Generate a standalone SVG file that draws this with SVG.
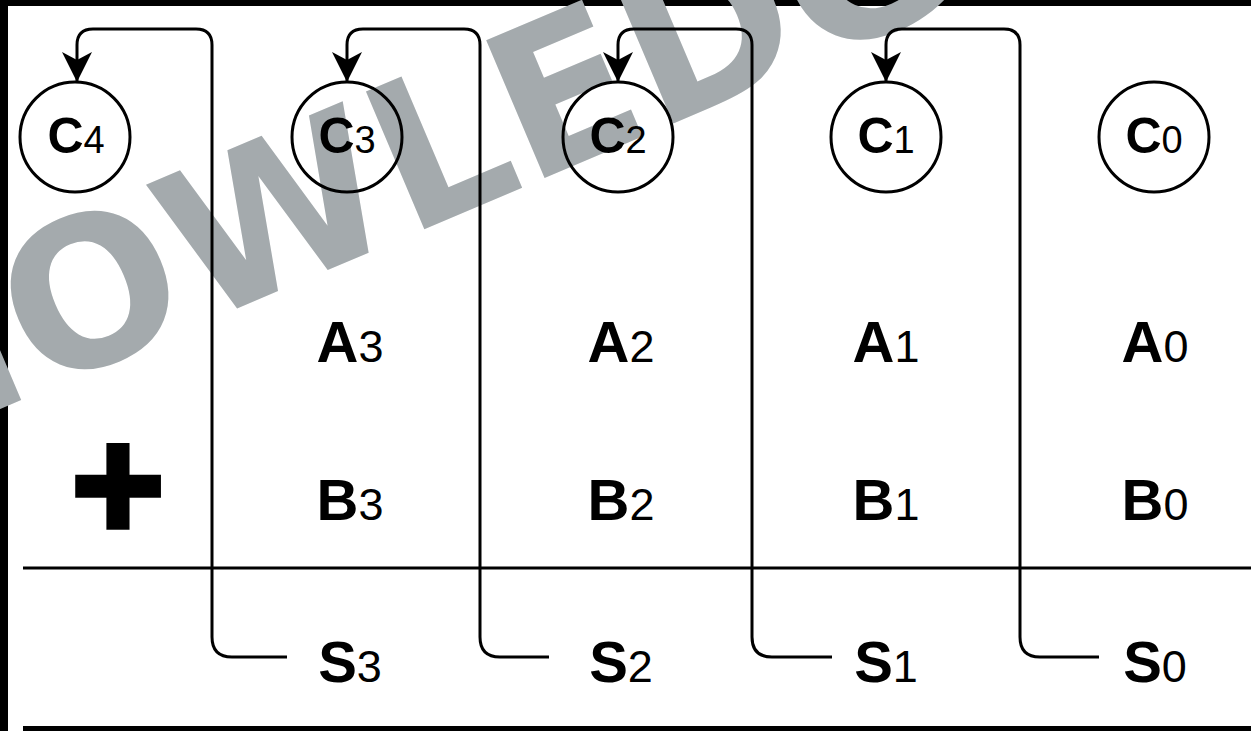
<svg xmlns="http://www.w3.org/2000/svg" width="1251" height="731" viewBox="0 0 1251 731">
<style>
.wm{font-family:"DejaVu Sans",Verdana,sans-serif;font-weight:bold;font-size:205px;fill:#a4aaad}
.node circle{fill:none;stroke:#000;stroke-width:3}
.lbl{font-family:"Liberation Sans",Arial,sans-serif;fill:#000;text-anchor:middle}
.big{font-weight:bold;font-size:58px}
.sub{font-weight:normal;font-size:45px}
.cbig{font-weight:bold;font-size:50px}
.csub{font-weight:normal;font-size:38px}
.conn{fill:none;stroke:#000;stroke-width:3}
.rule{stroke:#000;stroke-width:3}
</style>
<defs>
<marker id="arr" markerUnits="userSpaceOnUse" markerWidth="32" markerHeight="32" refX="30" refY="16" orient="auto" viewBox="0 0 32 32">
<path d="M30,16 L0,1 L8,16 L0,31 Z" fill="#000"/>
</marker>
</defs>
<rect x="0" y="0" width="1251" height="731" fill="#fff"/>
<rect x="0" y="0" width="8" height="731" fill="#000"/>
<rect x="0" y="0" width="1251" height="6" fill="#000"/>
<text class="wm" transform="translate(38,393) rotate(-23)" x="-330" y="0">KNOWLEDGE</text>

<g id="rules">
<line class="rule" x1="23" y1="568" x2="1251" y2="568"/>
<line x1="23" y1="728.5" x2="1251" y2="728.5" stroke="#000" stroke-width="5"/>
</g>

<g id="connectors">
<path class="conn" marker-end="url(#arr)" d="M287,657 L232,657 Q212,657 212,637 L212,45 Q212,29 196,29 L93,29 Q77,29 77,45 L77,82"/>
<path class="conn" marker-end="url(#arr)" d="M549,657 L500,657 Q480,657 480,637 L480,45 Q480,29 464,29 L363,29 Q347,29 347,45 L347,82"/>
<path class="conn" marker-end="url(#arr)" d="M832,657 L772,657 Q752,657 752,637 L752,45 Q752,29 736,29 L634,29 Q618,29 618,45 L618,82"/>
<path class="conn" marker-end="url(#arr)" d="M1099,657 L1040,657 Q1020,657 1020,637 L1020,45 Q1020,29 1004,29 L902,29 Q886,29 886,45 L886,82"/>
</g>

<g id="c4" class="node"><circle cx="75" cy="137" r="55"/><text class="lbl" x="76" y="153"><tspan class="cbig">C</tspan><tspan class="csub">4</tspan></text></g>
<g id="c3" class="node"><circle cx="347" cy="137" r="55"/><text class="lbl" x="347" y="153"><tspan class="cbig">C</tspan><tspan class="csub">3</tspan></text></g>
<g id="c2" class="node"><circle cx="618" cy="137" r="55"/><text class="lbl" x="618" y="153"><tspan class="cbig">C</tspan><tspan class="csub">2</tspan></text></g>
<g id="c1" class="node"><circle cx="886" cy="137" r="55"/><text class="lbl" x="886" y="153"><tspan class="cbig">C</tspan><tspan class="csub">1</tspan></text></g>
<g id="c0" class="node"><circle cx="1154" cy="137" r="55"/><text class="lbl" x="1154" y="153"><tspan class="cbig">C</tspan><tspan class="csub">0</tspan></text></g>

<g id="a3"><text class="lbl" x="350" y="362"><tspan class="big">A</tspan><tspan class="sub">3</tspan></text></g>
<g id="a2"><text class="lbl" x="621" y="362"><tspan class="big">A</tspan><tspan class="sub">2</tspan></text></g>
<g id="a1"><text class="lbl" x="886" y="362"><tspan class="big">A</tspan><tspan class="sub">1</tspan></text></g>
<g id="a0"><text class="lbl" x="1155" y="362"><tspan class="big">A</tspan><tspan class="sub">0</tspan></text></g>

<g id="plus"><text class="lbl" x="118" y="540" font-weight="bold" font-size="160" stroke="#000" stroke-width="5.5">+</text></g>
<g id="b3"><text class="lbl" x="350" y="520"><tspan class="big">B</tspan><tspan class="sub">3</tspan></text></g>
<g id="b2"><text class="lbl" x="621" y="520"><tspan class="big">B</tspan><tspan class="sub">2</tspan></text></g>
<g id="b1"><text class="lbl" x="886" y="520"><tspan class="big">B</tspan><tspan class="sub">1</tspan></text></g>
<g id="b0"><text class="lbl" x="1155" y="520"><tspan class="big">B</tspan><tspan class="sub">0</tspan></text></g>

<g id="s3"><text class="lbl" x="350" y="682"><tspan class="big">S</tspan><tspan class="sub">3</tspan></text></g>
<g id="s2"><text class="lbl" x="621" y="682"><tspan class="big">S</tspan><tspan class="sub">2</tspan></text></g>
<g id="s1"><text class="lbl" x="886" y="682"><tspan class="big">S</tspan><tspan class="sub">1</tspan></text></g>
<g id="s0"><text class="lbl" x="1155" y="682"><tspan class="big">S</tspan><tspan class="sub">0</tspan></text></g>
</svg>
